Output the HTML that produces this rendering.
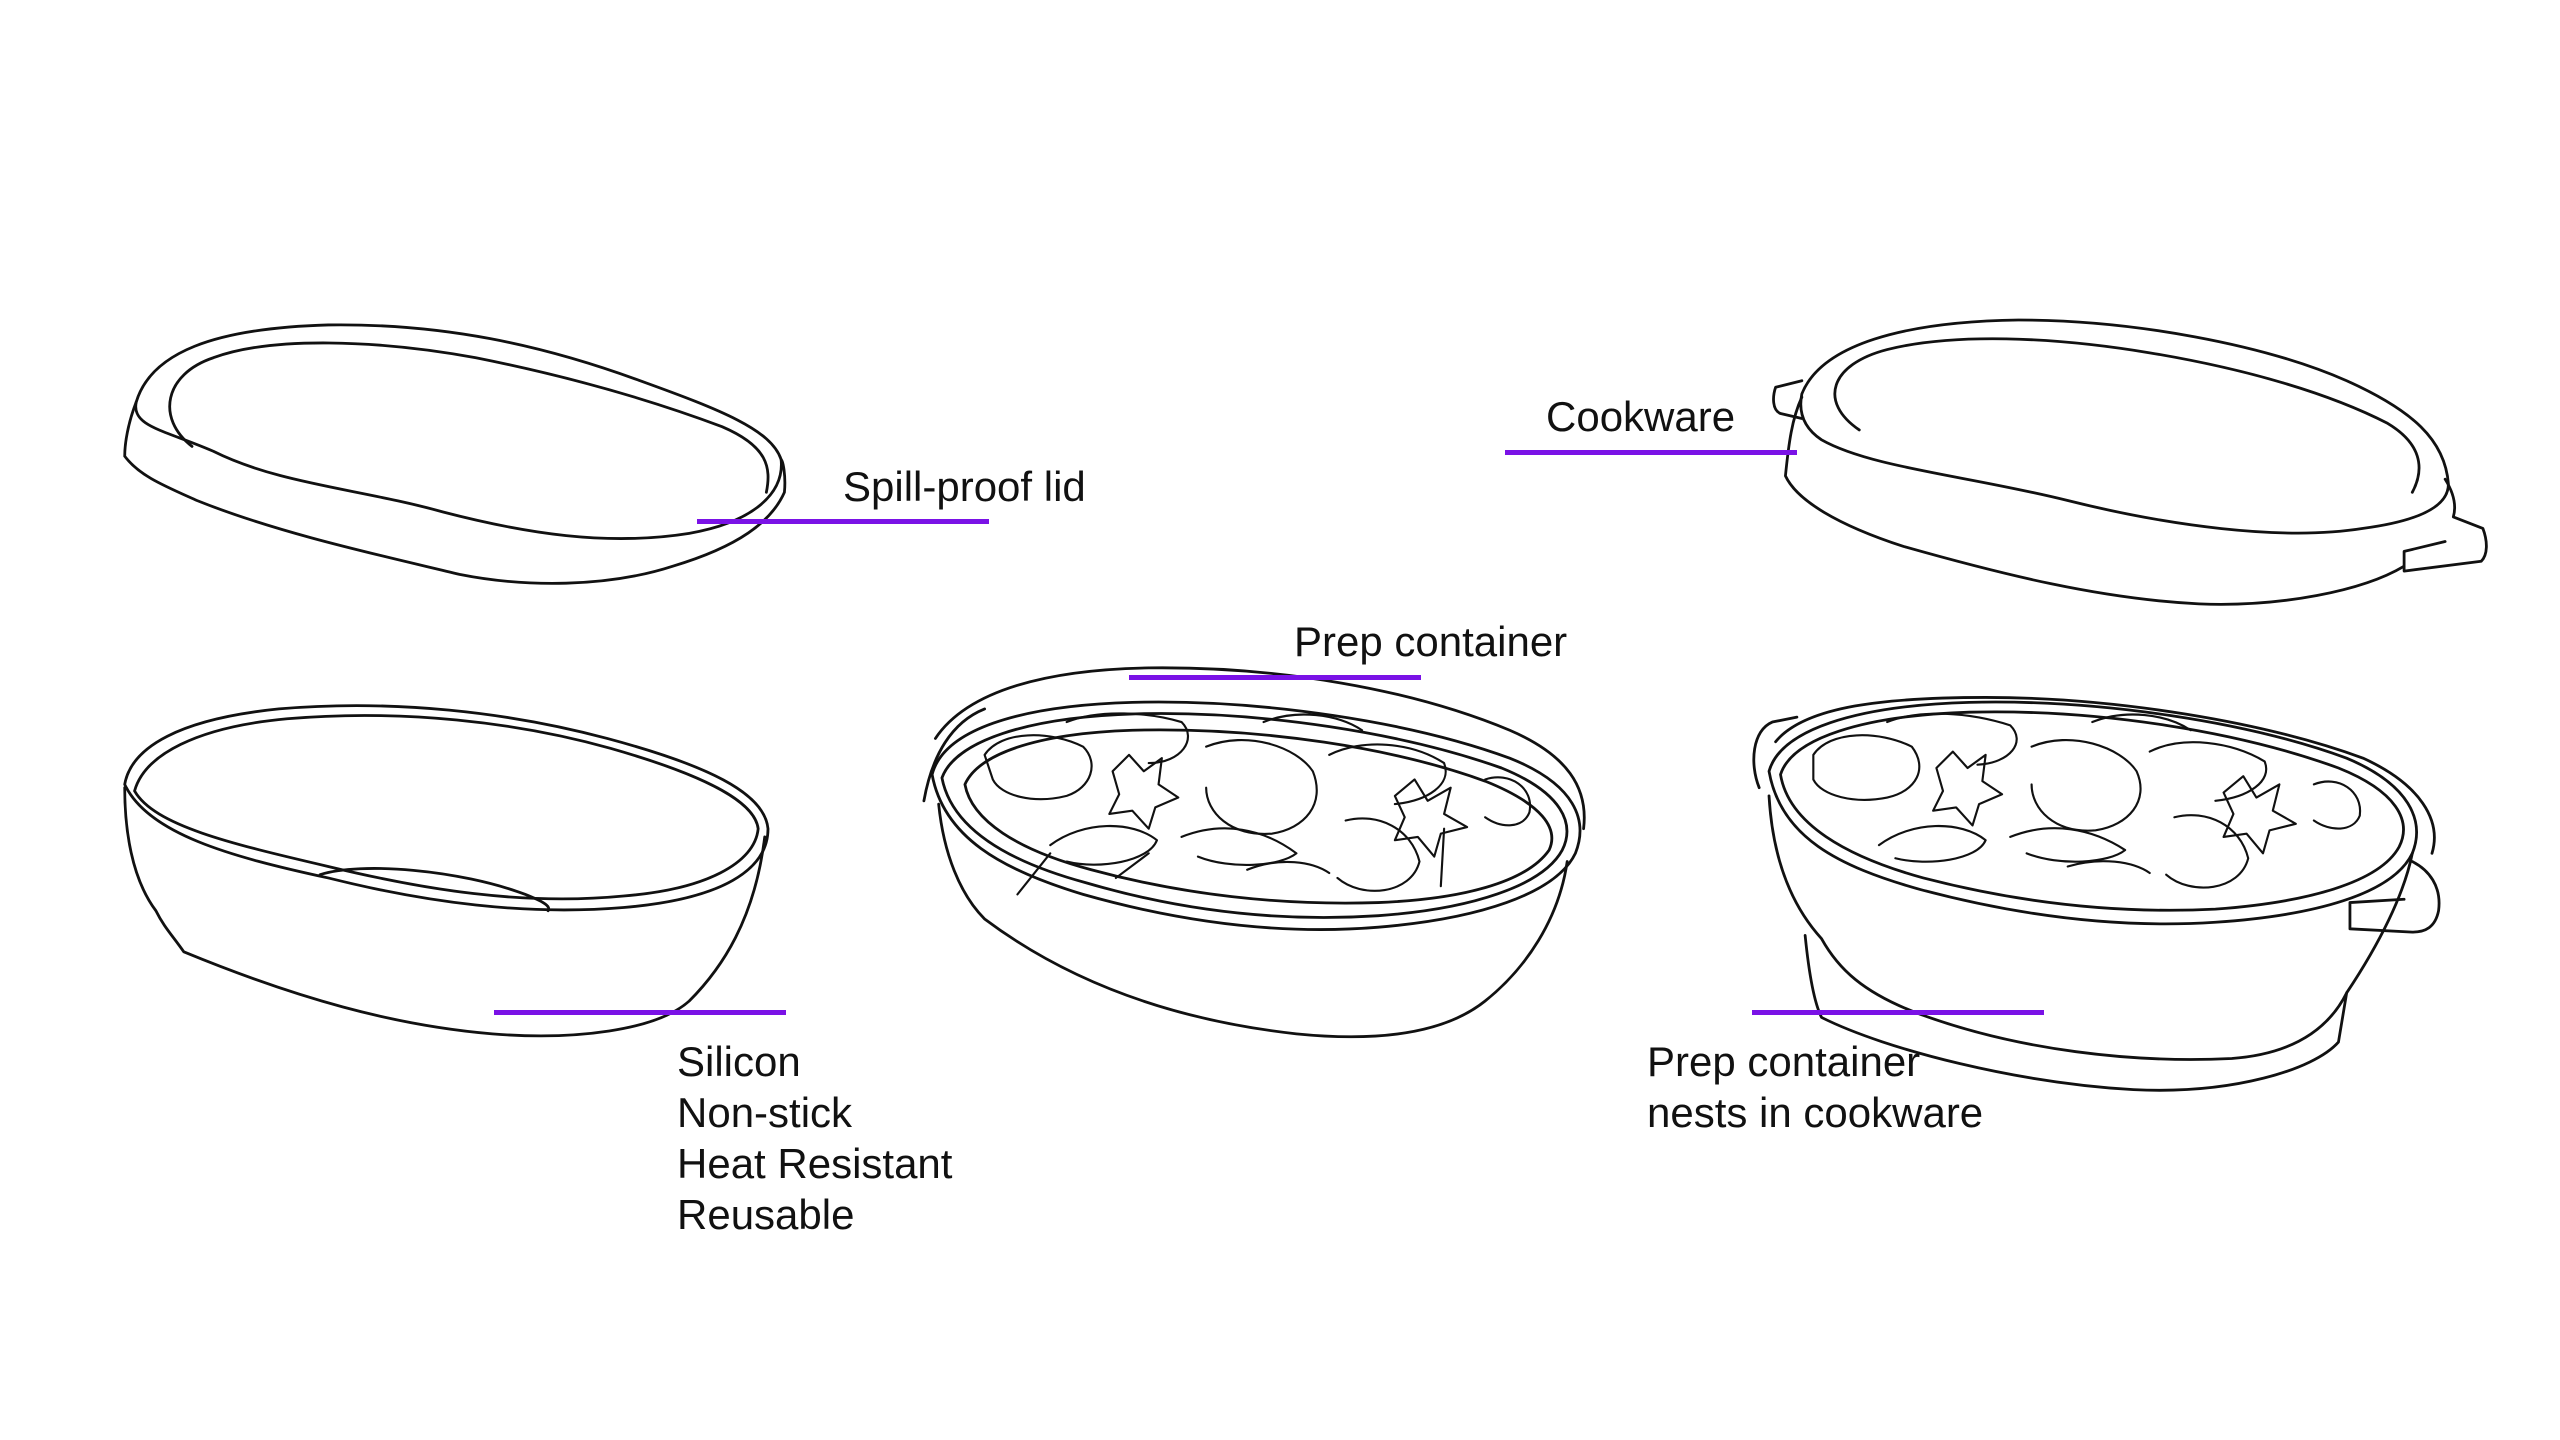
<!DOCTYPE html>
<html><head><meta charset="utf-8"><style>
html,body{margin:0;padding:0;background:#fff;}
body{width:2560px;height:1440px;position:relative;overflow:hidden;font-family:"Liberation Sans",sans-serif;}
.t{position:absolute;font-size:42px;line-height:51px;color:#111;white-space:nowrap;}
.l{position:absolute;height:5px;background:#7a12e6;}
svg{position:absolute;left:0;top:0;}
</style></head><body>
<svg width="2560" height="1440" viewBox="0 0 1560 877.5" fill="none" stroke="#111" stroke-width="1.7" stroke-linecap="round" stroke-linejoin="round">
<!-- Lid -->
<path d="M83,245 C92,215 130,200 200,198 C270,197 330,210 390,232 C440,250 470,262 476,280 C478,300 460,318 420,325 C370,333 320,325 270,312 C220,298 170,295 130,275 C100,262 80,260 83,245 Z"/>
<path d="M117,272 C95,255 100,228 130,218 C165,205 230,207 290,218 C350,230 400,245 440,260 C468,272 470,285 467,300"/>
<path d="M83,245 C78,258 76,270 76,278 C85,290 100,296 120,305 C170,325 230,338 280,350 C320,358 370,358 410,345 C450,333 470,318 478,300 C479,290 477,280 476,280"/>
<!-- Bowl 1 -->
<path d="M76,478 C80,455 110,438 170,432 C240,426 310,434 370,450 C430,466 466,483 468,505 C468,530 440,548 380,553 C320,558 260,550 200,535 C140,522 90,508 76,478 Z"/>
<path d="M82,482 C88,460 120,443 175,438 C245,432 315,440 372,456 C428,472 460,488 462,505 C460,526 430,542 380,546 C318,552 258,542 200,528 C140,514 94,503 82,482 Z"/>
<path d="M76,480 C76,505 80,535 95,555 C100,565 105,570 112,580 C180,608 240,625 300,630 C350,634 400,628 420,610 C440,590 460,560 466,510"/>
<path d="M195,533 C220,525 280,530 320,545 C330,549 336,552 334,555"/>
<!-- Bowl 2 (prep container) -->
<path d="M570,450 C590,420 640,408 700,407 C780,406 860,420 920,445 C955,460 968,480 965,505"/>
<path d="M568,472 C575,445 620,430 690,428 C770,426 860,440 920,462 C960,478 968,500 960,520 C948,545 900,560 840,565 C780,570 720,562 660,545 C610,530 575,510 568,472 Z"/>
<path d="M574,474 C582,452 625,437 692,435 C770,433 856,447 915,468 C952,483 960,502 952,518 C940,540 896,554 840,558 C780,562 720,555 662,538 C614,525 580,505 574,474 Z"/>
<path d="M588,478 C596,460 630,447 690,445 C770,443 850,456 905,476 C940,490 950,505 944,518 C930,538 890,548 840,550 C780,552 720,545 665,530 C620,518 592,500 588,478 Z"/>
<path d="M563,488 C568,460 580,440 600,432"/>
<path d="M572,490 C575,520 585,545 600,560 C640,590 700,620 790,630 C840,635 880,630 905,610 C930,590 950,560 955,525"/>
<g stroke-width="1.3">
<path d="M600,460 C610,445 640,445 660,455 C670,465 665,480 650,485 C630,490 610,485 605,475 Z"/>
<path d="M650,440 C670,432 700,434 720,440 C730,450 720,465 700,465"/>
<path d="M678,470 L688,460 L697,470 L708,462 L706,478 L718,486 L704,492 L700,505 L690,494 L676,496 L682,484 Z"/>
<path d="M735,455 C760,445 790,455 800,470 C808,490 795,505 775,508 C750,510 735,495 735,480"/>
<path d="M770,440 C790,432 815,435 830,445"/>
<path d="M810,460 C830,450 860,452 880,465 C885,478 870,488 850,490"/>
<path d="M850,485 L862,475 L870,488 L884,480 L880,496 L894,504 L878,508 L874,522 L864,510 L850,512 L856,498 Z"/>
<path d="M905,475 C920,470 935,480 932,495 C928,505 915,505 905,498"/>
<path d="M720,510 C745,500 770,505 790,520 C780,528 750,530 730,522"/>
<path d="M640,515 C660,500 690,500 705,512 C700,525 670,530 650,525"/>
<path d="M820,500 C840,495 860,505 865,525 C860,545 830,548 815,535"/>
<path d="M760,530 C780,522 800,525 810,532"/>
<path d="M640,520 L620,545 M700,520 L680,535 M880,505 L878,540"/>
</g>
<!-- Cookware -->
<path d="M1098,240 C1110,210 1160,196 1230,195 C1300,195 1380,210 1430,232 C1470,250 1490,268 1492,295 C1492,310 1470,318 1440,322 C1390,330 1320,320 1260,305 C1200,290 1140,285 1110,268 C1098,260 1096,250 1098,240 Z"/>
<path d="M1133,262 C1108,245 1115,222 1150,213 C1190,203 1250,205 1310,215 C1370,225 1420,240 1455,258 C1475,270 1478,285 1470,300"/>
<path d="M1098,242 C1092,255 1090,270 1088,290 C1095,305 1120,320 1160,333 C1220,350 1280,365 1340,368 C1390,370 1440,360 1465,345"/>
<path d="M1098,232 L1082,236 C1080,242 1080,250 1085,252 L1098,255"/>
<path d="M1490,292 C1495,300 1497,308 1495,315 L1513,322 C1516,330 1516,338 1512,342 L1465,348 L1465,336 L1490,330"/>
<!-- Nested container -->
<path d="M1082,452 C1100,430 1150,425 1210,425 C1290,425 1380,440 1440,462 C1475,478 1488,500 1482,520"/>
<path d="M1078,470 C1085,445 1130,430 1200,428 C1280,426 1370,440 1430,462 C1468,478 1478,500 1470,520 C1458,545 1410,558 1350,562 C1290,566 1230,558 1170,542 C1120,528 1085,510 1078,470 Z"/>
<path d="M1085,472 C1092,450 1135,436 1200,434 C1280,432 1365,446 1425,468 C1460,482 1470,500 1462,516 C1450,538 1405,550 1350,554 C1290,557 1230,550 1172,535 C1125,522 1090,502 1085,472 Z"/>
<path d="M1072,480 C1066,465 1068,445 1080,440 L1095,437"/>
<path d="M1078,485 C1080,520 1090,550 1110,572 C1120,590 1135,605 1170,618 C1230,640 1300,648 1360,645 C1400,642 1420,625 1430,605 C1450,575 1465,545 1470,520"/>
<path d="M1100,570 C1102,590 1105,610 1110,620 C1150,640 1230,660 1300,664 C1360,667 1410,652 1425,635 L1430,605"/>
<path d="M1470,525 C1480,530 1488,540 1486,555 C1484,565 1478,568 1470,568 L1432,566 L1432,550 L1465,548"/>
<g stroke-width="1.3">
<path d="M1105,460 C1115,445 1145,445 1165,455 C1175,468 1168,482 1150,486 C1130,490 1110,485 1105,475 Z"/>
<path d="M1150,440 C1170,432 1200,434 1225,442 C1235,452 1225,465 1205,466"/>
<path d="M1180,468 L1190,458 L1199,468 L1210,460 L1208,476 L1220,484 L1206,490 L1202,503 L1192,492 L1178,494 L1184,482 Z"/>
<path d="M1238,455 C1262,445 1292,455 1302,470 C1310,488 1297,503 1277,506 C1252,508 1238,493 1238,478"/>
<path d="M1275,440 C1295,432 1320,435 1335,445"/>
<path d="M1310,458 C1330,448 1360,452 1380,464 C1385,476 1370,486 1350,488"/>
<path d="M1355,483 L1367,473 L1375,486 L1389,478 L1385,494 L1399,502 L1383,506 L1379,520 L1369,508 L1355,510 L1361,496 Z"/>
<path d="M1410,478 C1425,472 1440,482 1438,497 C1434,507 1420,507 1410,500"/>
<path d="M1225,510 C1250,500 1275,505 1295,518 C1285,526 1255,528 1235,520"/>
<path d="M1145,515 C1165,500 1195,500 1210,512 C1205,524 1175,528 1155,523"/>
<path d="M1325,498 C1345,493 1365,503 1370,523 C1365,543 1335,546 1320,533"/>
<path d="M1260,528 C1280,522 1300,525 1310,532"/>
</g>
</svg>
<div class="t" style="left:843px;top:461px">Spill-proof lid</div>
<div class="l" style="left:697px;top:519px;width:292px"></div>
<div class="t" style="left:1546px;top:391px">Cookware</div>
<div class="l" style="left:1505px;top:450px;width:292px"></div>
<div class="t" style="left:1294px;top:616px">Prep container</div>
<div class="l" style="left:1129px;top:675px;width:292px"></div>
<div class="l" style="left:494px;top:1010px;width:292px"></div>
<div class="t" style="left:677px;top:1036px">Silicon<br>Non-stick<br>Heat Resistant<br>Reusable</div>
<div class="l" style="left:1752px;top:1010px;width:292px"></div>
<div class="t" style="left:1647px;top:1036px">Prep container<br>nests in cookware</div>
</body></html>
